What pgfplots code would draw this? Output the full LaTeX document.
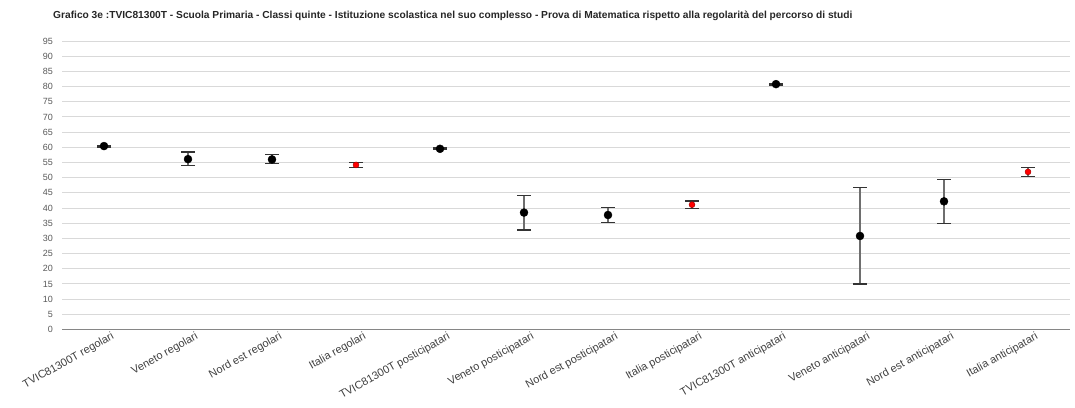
\documentclass[border=0pt]{standalone}
\usepackage{pgfplots}
\pgfplotsset{compat=1.18}
\usepackage{fontspec}
\setmainfont{Liberation Sans}
\definecolor{gridgray}{HTML}{D9D9D9}
\definecolor{axisgray}{HTML}{868686}
\definecolor{labelgray}{HTML}{595959}
\definecolor{errgray}{HTML}{6E6E6E}
\definecolor{itared}{HTML}{FF0000}
\begin{document}
\begin{tikzpicture}
\path[use as bounding box] (0,0) rectangle (1075pt,407pt);
\begin{axis}[
    at={(62pt,77.5pt)}, anchor=south west,
    scale only axis,
    width=1008pt, height=288.5pt,
    xmin=-0.5, xmax=11.5,
    ymin=0, ymax=95,
    ytick distance=5,
    xtick={0,...,11},
    xticklabels={TVIC81300T regolari, Veneto regolari, Nord est regolari, Italia regolari,
        TVIC81300T posticipatari, Veneto posticipatari, Nord est posticipatari, Italia posticipatari,
        TVIC81300T anticipatari, Veneto anticipatari, Nord est anticipatari, Italia anticipatari},
    separate axis lines,
    axis x line*=bottom, axis y line*=left,
    x axis line style={draw=axisgray, line width=1pt, -},
    y axis line style={draw=none},
    major tick length=0pt,
    ymajorgrids,
    grid style={draw=gridgray, line width=0.9pt},
    /pgf/number format/assume math mode=true,
    yticklabel style={font=\fontsize{9}{10}\selectfont, text=labelgray,
        anchor=east, inner sep=0pt, xshift=-9pt},
    xticklabel style={font=\fontsize{11}{12}\selectfont, text=black!75,
        rotate=29, anchor=north east, inner sep=0pt, yshift=-5pt, xshift=5pt},
    title={Grafico 3e :TVIC81300T - Scuola Primaria - Classi quinte - Istituzione scolastica nel suo complesso - Prova di Matematica rispetto alla regolarità del percorso di studi},
    title style={at={(0,1)}, anchor=west, inner sep=0pt, xshift=-9pt, yshift=19pt,
        font=\bfseries\fontsize{10.2}{12}\selectfont, text=black!85},
    clip=false,
]
% regional / school values
\addplot[only marks, mark=*, mark size=4pt, mark options={fill=black, draw=black},
    error bars/.cd, y dir=both, y explicit,
    error bar style={draw=errgray, line width=1.3pt},
    error mark options={rotate=90, mark size=7pt, draw=black!80, line width=1.3pt}]
coordinates {
    (0,60.4) +- (0,0.3)
    (1,56.1) += (0,2.3) -= (0,2.2)
    (2,56.0) += (0,1.6) -= (0,1.3)
    (4,59.5) +- (0,0.3)
    (5,38.5) += (0,5.6) -= (0,5.7)
    (6,37.7) += (0,2.4) -= (0,2.5)
    (8,80.8) +- (0,0.3)
    (9,30.8) += (0,15.9) -= (0,15.8)
    (10,42.2) += (0,7.3) -= (0,7.2)
};
% Italia values
\addplot[only marks, mark=*, mark size=3pt, mark options={fill=itared, draw=itared!60!black},
    error bars/.cd, y dir=both, y explicit,
    error bar style={draw=errgray, line width=1.3pt},
    error mark options={rotate=90, mark size=7pt, draw=black!80, line width=1.3pt}]
coordinates {
    (3,54.2) += (0,0.7) -= (0,0.8)
    (7,41.1) +- (0,1.2)
    (11,51.9) +- (0,1.5)
};
\end{axis}
\end{tikzpicture}
\end{document}
